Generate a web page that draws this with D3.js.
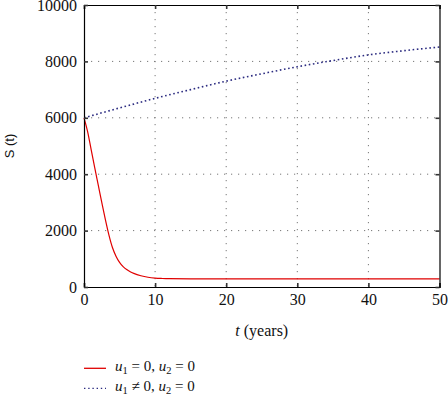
<!DOCTYPE html>
<html>
<head>
<meta charset="utf-8">
<script src="https://cdn.jsdelivr.net/npm/d3@7"></script>
<style>
  body { margin: 0; background: #fff; }
</style>
</head>
<body>
<svg id="chart" width="448" height="399"></svg>
<script>
// data
const xTicks = [0, 10, 20, 30, 40, 50];
const yTicks = [0, 2000, 4000, 6000, 8000, 10000];

const noControlT = [0, 0.5, 1, 1.5, 2, 2.5, 3, 3.5, 4, 4.5, 5, 5.5, 6, 6.5, 7, 8, 9, 10, 11, 12, 15, 20, 30, 40, 50];
const noControlS = [6000, 5520, 4880, 4240, 3620, 3000, 2400, 1850, 1400, 1090, 870, 725, 620, 543, 485, 400, 345, 315, 302, 295, 290, 290, 290, 290, 290];

const controlT = [0, 5, 10, 15, 20, 25, 30, 35, 40, 45, 50];
const controlS = [6000, 6350, 6690, 7000, 7300, 7560, 7810, 8030, 8230, 8380, 8510];

const serif = "Liberation Serif, Times New Roman, serif";

(() => {
    const svg = d3.select("svg#chart");
    const margin = { top: 5, right: 8.5, bottom: 112, left: 84 };
    const width = 448 - margin.left - margin.right;
    const height = 399 - margin.top - margin.bottom;

    const x = d3.scaleLinear().domain([0, 50]).range([margin.left, margin.left + width]);
    const y = d3.scaleLinear().domain([0, 10000]).range([margin.top + height, margin.top]);

    // grid lines (dotted)
    const grid = svg.append("g").attr("class", "grid");
    grid.selectAll(".vgrid")
        .data(xTicks.slice(1, -1))
        .enter().append("line")
        .attr("x1", d => x(d)).attr("x2", d => x(d))
        .attr("y1", margin.top).attr("y2", margin.top + height)
        .attr("stroke", "#777").attr("stroke-width", 1)
        .attr("stroke-dasharray", "1.2,5.8");
    grid.selectAll(".hgrid")
        .data(yTicks.slice(1, -1))
        .enter().append("line")
        .attr("x1", margin.left).attr("x2", margin.left + width)
        .attr("y1", d => y(d)).attr("y2", d => y(d))
        .attr("stroke", "#777").attr("stroke-width", 1)
        .attr("stroke-dasharray", "1.2,5.8");

    // curves
    const lineGen = d3.line()
        .x(d => x(d[0]))
        .y(d => y(d[1]))
        .curve(d3.curveMonotoneX);

    svg.append("path")
        .datum(controlT.map((t, i) => [t, controlS[i]]))
        .attr("fill", "none")
        .attr("stroke", "#2b2b80")
        .attr("stroke-width", 1.6)
        .attr("stroke-dasharray", "1.6,2.6")
        .attr("d", lineGen);

    svg.append("path")
        .datum(noControlT.map((t, i) => [t, noControlS[i]]))
        .attr("fill", "none")
        .attr("stroke", "#e00000")
        .attr("stroke-width", 1.2)
        .attr("d", lineGen);

    // axes: ticks inward on all four sides
    const tickLen = 4;
    const bottomAxis = svg.append("g")
        .attr("transform", `translate(0, ${margin.top + height})`)
        .call(d3.axisBottom(x).tickValues(xTicks).tickSize(-tickLen).tickPadding(7).tickFormat(d3.format("d")));
    const topAxis = svg.append("g")
        .attr("transform", `translate(0, ${margin.top})`)
        .call(d3.axisTop(x).tickValues(xTicks).tickSize(-tickLen).tickFormat(""));
    const leftAxis = svg.append("g")
        .attr("transform", `translate(${margin.left}, 0)`)
        .call(d3.axisLeft(y).tickValues(yTicks).tickSize(-tickLen).tickPadding(7).tickFormat(d3.format("d")));
    const rightAxis = svg.append("g")
        .attr("transform", `translate(${margin.left + width}, 0)`)
        .call(d3.axisRight(y).tickValues(yTicks).tickSize(-tickLen).tickFormat(""));

    [bottomAxis, topAxis, leftAxis, rightAxis].forEach(a => {
        a.attr("font-family", serif).attr("font-size", 16);
        a.select(".domain").attr("stroke", "#000").attr("stroke-width", 1.2);
        a.selectAll(".tick line").attr("stroke", "#333").attr("stroke-width", 1.6);
        a.selectAll("text").attr("fill", "#111");
    });

    // axis titles
    svg.append("text")
        .attr("transform", `translate(14, ${margin.top + height / 2}) rotate(-90)`)
        .attr("text-anchor", "middle")
        .attr("font-family", "Liberation Sans, Arial, sans-serif")
        .attr("font-size", 13)
        .attr("fill", "#111")
        .text("S (t)");

    const xTitle = svg.append("text")
        .attr("x", x(25))
        .attr("y", 336)
        .attr("text-anchor", "middle")
        .attr("font-family", serif)
        .attr("font-size", 16)
        .attr("fill", "#111");
    xTitle.append("tspan").attr("font-style", "italic").text("t");
    xTitle.append("tspan").text(" (years)");

    // legend
    const legendItems = [
        { label: ["1", " = 0, ", "2", " = 0"], color: "#e00000", dash: null, width: 1.3 },
        { label: ["1", " \u2260 0, ", "2", " = 0"], color: "#2b2b80", dash: "1.4,2.8", width: 1.3 }
    ];
    const legend = svg.append("g").attr("font-family", serif);
    legendItems.forEach((item, i) => {
        const yy = 368.3 + i * 20;
        legend.append("line")
            .attr("x1", 84).attr("x2", 106)
            .attr("y1", yy).attr("y2", yy)
            .attr("stroke", item.color)
            .attr("stroke-width", item.width)
            .attr("stroke-dasharray", item.dash);
        const t = legend.append("text")
            .attr("x", 115)
            .attr("y", yy + 2.5)
            .attr("font-size", 15)
            .attr("fill", "#111");
        t.append("tspan").attr("font-style", "italic").text("u");
        t.append("tspan").attr("dy", 3).attr("font-size", 10.5).text(item.label[0]);
        t.append("tspan").attr("dy", -3).text(item.label[1]);
        t.append("tspan").attr("font-style", "italic").text("u");
        t.append("tspan").attr("dy", 3).attr("font-size", 10.5).text(item.label[2]);
        t.append("tspan").attr("dy", -3).text(item.label[3]);
    });
})();
</script>
</body>
</html>
